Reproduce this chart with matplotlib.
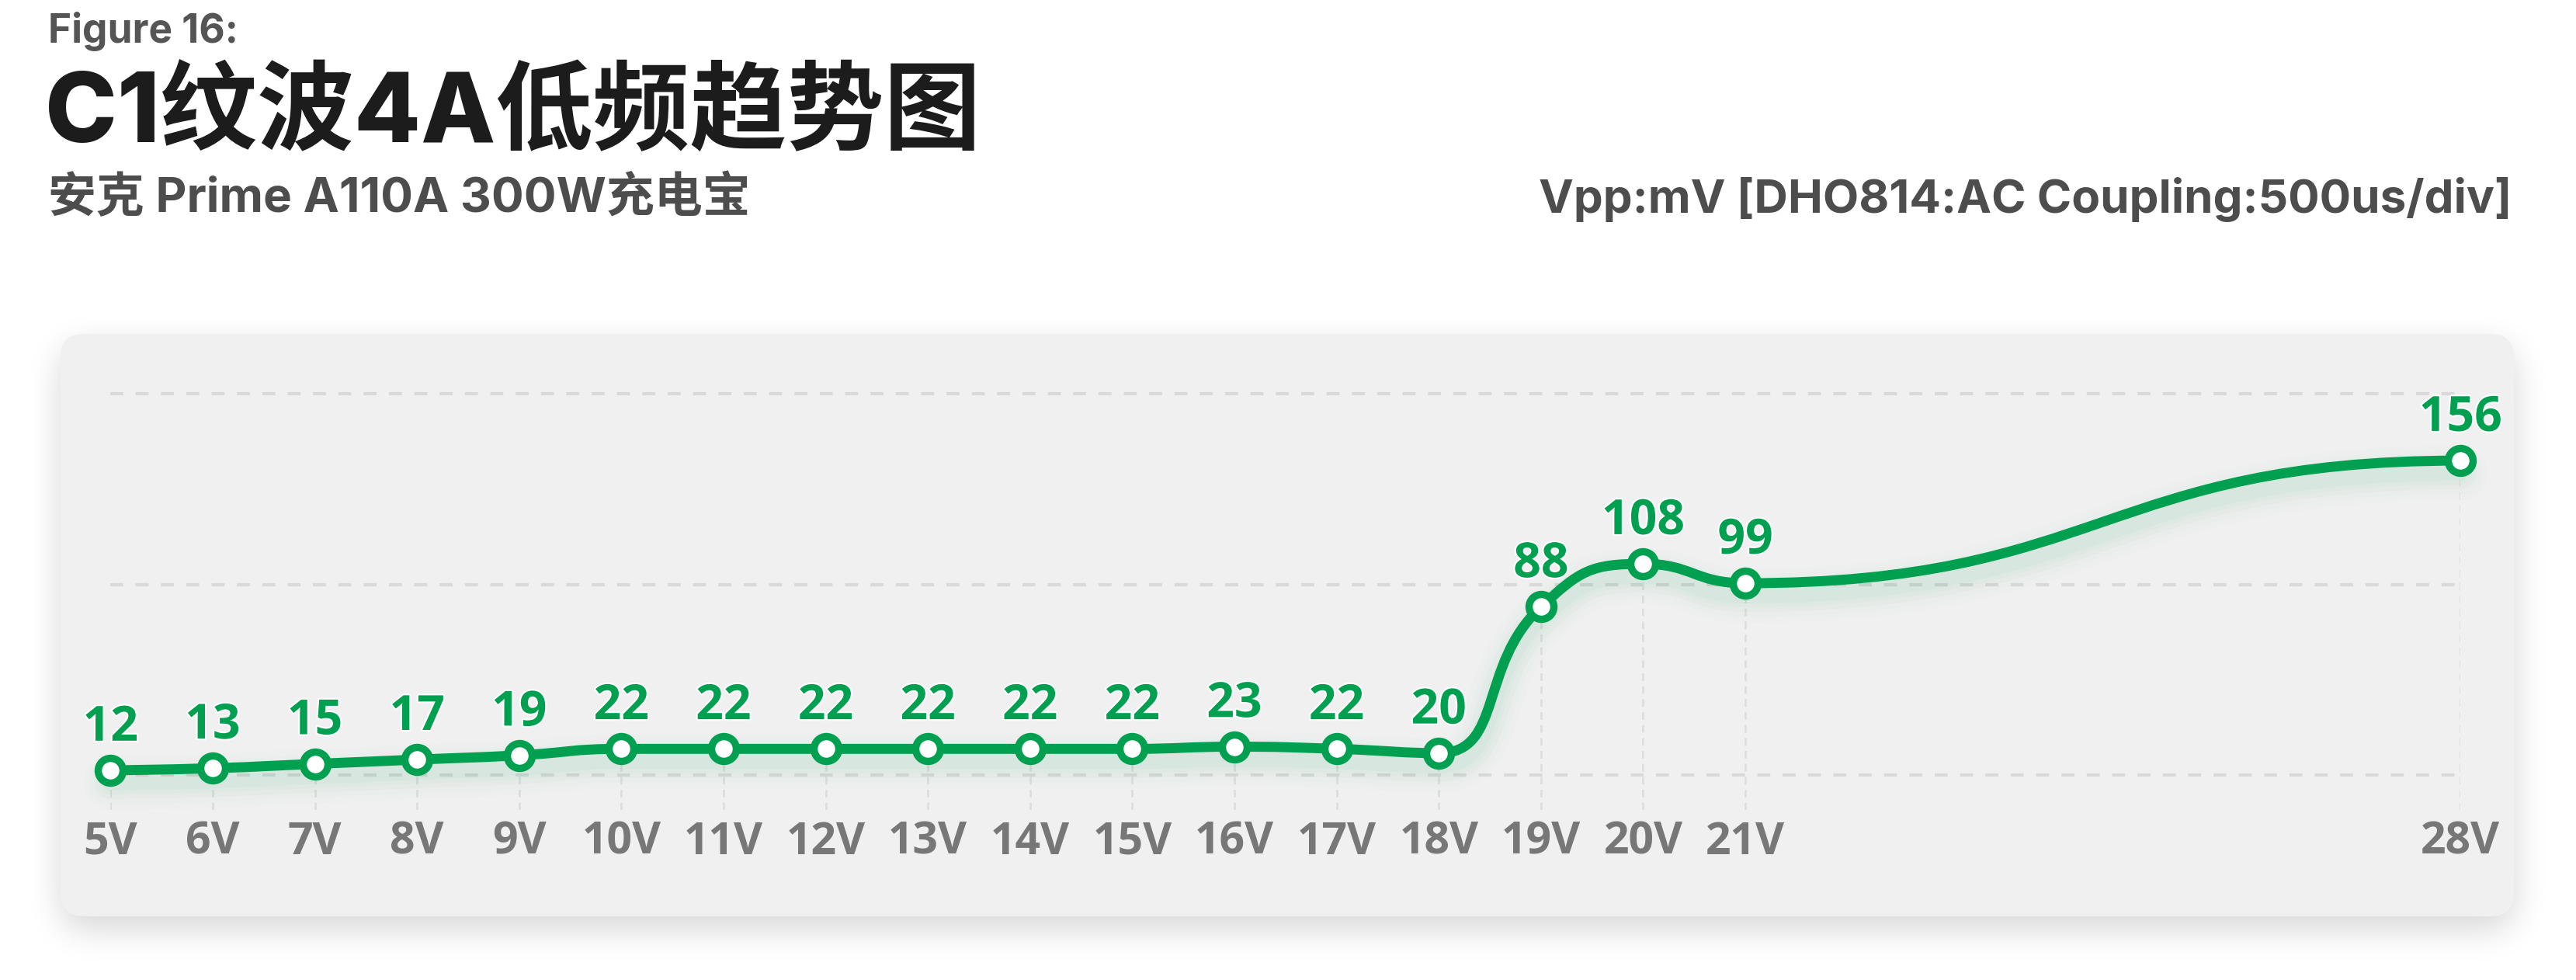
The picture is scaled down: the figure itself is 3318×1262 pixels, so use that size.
import numpy as np
import matplotlib
matplotlib.use("Agg")
import matplotlib.pyplot as plt
from matplotlib.patches import FancyBboxPatch, PathPatch
from matplotlib.path import Path
from matplotlib import transforms
import matplotlib.patheffects as pe

plt.rcParams['lines.scale_dashes'] = False

# ---------------- data ----------------
volts = [5, 6, 7, 8, 9, 10, 11, 12, 13, 14, 15, 16, 17, 18, 19, 20, 21, 28]
ripple_mv = [12, 13, 15, 17, 19, 22, 22, 22, 22, 22, 22, 23, 22, 20, 88, 108, 99, 156]
tick_labels = [f"{v}V" for v in volts]

title_small = "Figure 16:"
title_main = "C1纹波4A低频趋势图"
subtitle = "安克 Prime A110A 300W充电宝"
right_note = "Vpp:mV [DHO814:AC Coupling:500us/div]"

# ---------------- style ----------------
GREEN = "#00a050"
W, H = 3318, 1262
LATIN_CJK = ['Inter', 'Noto Sans CJK SC', 'DejaVu Sans']
NUM_FONT = ['Open Sans', 'DejaVu Sans']

fig = plt.figure(figsize=(W / 100, H / 100), dpi=100)
fig.patch.set_facecolor("white")

# background axes in pixel coordinates
bg = fig.add_axes([0, 0, 1, 1], zorder=0)
bg.set_xlim(0, W)
bg.set_ylim(H, 0)
bg.axis("off")

# panel geometry (pixels)
px0, px1, py0, py1, rad = 78, 3238, 430, 1180, 30

# soft shadow under the panel
yy, xx = np.mgrid[0:H, 0:W].astype(float)
off = 16
dx = np.maximum(np.maximum(px0 + rad - xx, 0), xx - (px1 - rad))
dy = np.maximum(np.maximum(py0 + off + rad - yy, 0), yy - (py1 + off - rad))
mask = (np.hypot(dx, dy) <= rad).astype(float)

def box_blur(a, w, axis):
    pad = w // 2
    a = np.pad(a, [(pad, pad) if i == axis else (0, 0) for i in range(2)], mode="constant")
    c = np.cumsum(a, axis=axis)
    c = np.insert(c, 0, 0, axis=axis)
    n = a.shape[axis] - w + 1
    if axis == 0:
        return (c[w:w + n] - c[0:n]) / w
    return (c[:, w:w + n] - c[:, 0:n]) / w

for _ in range(3):
    mask = box_blur(mask, 41, 0)
    mask = box_blur(mask, 41, 1)
shadow = np.zeros((H, W, 4))
shadow[..., 3] = mask * 0.16
bg.imshow(shadow, extent=[0, W, H, 0], zorder=1, interpolation="bilinear", aspect="auto")
bg.set_xlim(0, W)
bg.set_ylim(H, 0)

panel = FancyBboxPatch((px0 + rad, py0 + rad), (px1 - px0) - 2 * rad, (py1 - py0) - 2 * rad,
                       boxstyle=f"round,pad={rad}", linewidth=0, facecolor="#f0f0f0", zorder=2)
bg.add_patch(panel)

# header texts
bg.text(62, 55, title_small, fontsize=37, fontweight="bold", color="#555555",
        family=LATIN_CJK, va="baseline", ha="left")
bg.text(58, 183, title_main, fontsize=90, fontweight="heavy", color="#1c1c1c",
        family=LATIN_CJK, va="baseline", ha="left")
bg.text(62, 273, subtitle, fontsize=44.6, fontweight="bold", color="#4d4d4d",
        family=LATIN_CJK, va="baseline", ha="left")
bg.text(3236, 274, right_note, fontsize=43.3, fontweight="bold", color="#4d4d4d",
        family=LATIN_CJK, va="baseline", ha="right")

# ---------------- main axes ----------------
ax_left, ax_right = 142.3, 3169.3
ax_top, ax_bottom = 506.7, 1043.0
ax = fig.add_axes([ax_left / W, 1 - ax_bottom / H, (ax_right - ax_left) / W, (ax_bottom - ax_top) / H],
                  zorder=3)
ax.patch.set_alpha(0)
for s in ax.spines.values():
    s.set_visible(False)

y_bottom, y_top = -6.4, 187.2
ax.set_xlim(volts[0], volts[-1])
ax.set_ylim(y_bottom, y_top)

grid_values = [9.85, 98.4, 187.2]
for g in grid_values:
    ax.axhline(g, color="#d9d9d9", lw=3.0, ls=(0, (12, 11.5)), zorder=1, clip_on=False)

ax.vlines(volts, y_bottom, ripple_mv, colors="#dedede", lw=2.0, linestyles=(0, (7, 5)), zorder=1)

ax.set_xticks(volts)
ax.set_xticklabels(tick_labels)
ax.set_yticks([])
ax.tick_params(axis="x", length=0, pad=9, labelsize=41, labelcolor="#777777")
for t in ax.get_xticklabels():
    t.set_fontweight("bold")
    t.set_family(NUM_FONT)

# smooth curve (echarts-like bezier), computed in display space
fig.canvas.draw()
pts = ax.transData.transform(np.column_stack([volts, ripple_mv]))
X, Y = pts[:, 0], pts[:, 1]
smooth = 0.5
verts = [(X[0], Y[0])]
codes = [Path.MOVETO]
cp0 = (X[0], Y[0])
n = len(X)
for i in range(1, n):
    x, y = X[i], Y[i]
    prx, pry = X[i - 1], Y[i - 1]
    if i == n - 1:
        cp1 = (x - (x - prx) * smooth, y)
        ncp = (x, y)
    else:
        nx, ny = X[i + 1], Y[i + 1]
        vx, vy = nx - prx, ny - pry
        lp = np.hypot(x - prx, y - pry)
        ln = np.hypot(nx - x, ny - y)
        r = ln / (ln + lp)
        ncx = x + vx * smooth * r
        ncy = y + vy * smooth * r
        ncx = max(min(ncx, max(nx, x)), min(nx, x))
        ncy = max(min(ncy, max(ny, y)), min(ny, y))
        vx, vy = ncx - x, ncy - y
        c1x = x - vx * lp / ln
        c1y = y - vy * lp / ln
        c1x = max(min(c1x, max(prx, x)), min(prx, x))
        c1y = max(min(c1y, max(pry, y)), min(pry, y))
        vx, vy = x - c1x, y - c1y
        ncp = (x + vx * ln / lp, y + vy * ln / lp)
        cp1 = (c1x, c1y)
    verts += [cp0, cp1, (x, y)]
    codes += [Path.CURVE4] * 3
    cp0 = ncp
verts_data = ax.transData.inverted().transform(np.array(verts))
curve = Path(verts_data, codes)

# glow beneath the line
for lw, a in [(70, 0.012), (55, 0.016), (42, 0.02), (30, 0.025), (20, 0.03)]:
    tr = ax.transData + transforms.ScaledTranslation(0, -16 / 100, fig.dpi_scale_trans)
    ax.add_patch(PathPatch(curve, facecolor="none", edgecolor=GREEN, lw=lw * 0.72, alpha=a,
                           transform=tr, zorder=2, clip_on=False, capstyle="round"))

ax.add_patch(PathPatch(curve, facecolor="none", edgecolor=GREEN, lw=9.3, zorder=4, clip_on=False,
                       joinstyle="round", capstyle="round"))

ax.plot(volts, ripple_mv, ls="none", marker="o", ms=23, mew=6.8, mec=GREEN, mfc="white",
        zorder=5, clip_on=False)

for v, m in zip(volts, ripple_mv):
    ax.annotate(f"{m}", (v, m), xytext=(0, 27.5), textcoords="offset points", ha="center",
                va="baseline", fontsize=45, fontweight="bold", color=GREEN, family=NUM_FONT,
                zorder=6, annotation_clip=False,
                path_effects=[pe.withStroke(linewidth=3, foreground="white")])

fig.savefig("out.png", dpi=100, facecolor="white")
